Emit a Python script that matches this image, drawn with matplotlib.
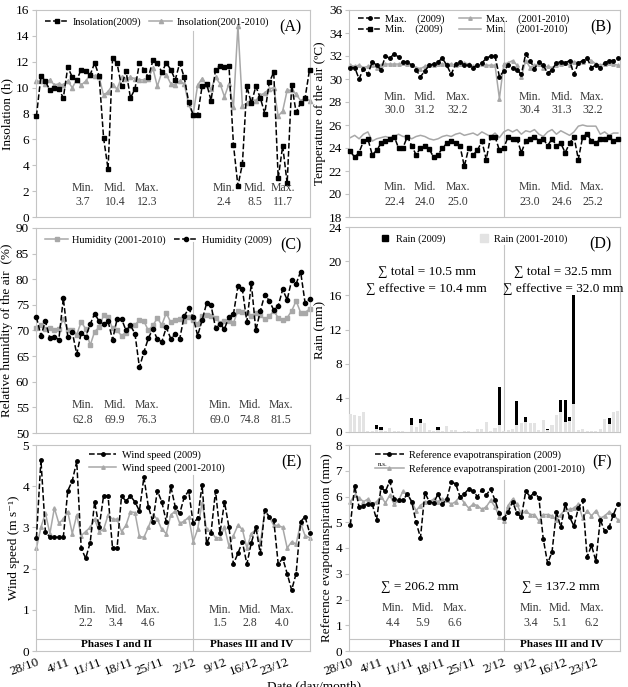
import numpy as np
import matplotlib.pyplot as plt
from matplotlib.lines import Line2D

plt.rcParams['font.family'] = ['Liberation Serif', 'DejaVu Serif']

# ---- data (daily values, 28/10 .. 28/12) ----
date_labels = ['28/10', '4/11', '11/11', '18/11', '25/11', '2/12', '9/12', '16/12', '23/12']
date_pos = [0, 7, 14, 21, 28, 35, 42, 49, 56]

insol_2009 = [7.8, 10.9, 10.5, 9.8, 10.0, 9.9, 9.2, 11.6, 10.8, 10.6, 11.4, 11.3, 11.0, 11.9, 10.9, 6.1, 3.7, 12.3,
              11.9, 10.1, 11.3, 9.2, 9.9, 11.9, 11.4, 10.8, 12.1, 11.9, 11.2, 11.9, 11.4, 10.6, 11.9, 10.8, 8.9, 7.9,
              7.9, 10.1, 10.3, 9.0, 11.4, 11.7, 11.6, 11.7, 5.6, 2.4, 4.1, 10.1, 8.8, 10.1, 9.2, 8.0, 10.4, 11.2,
              3.0, 5.5, 2.6, 10.2, 8.1, 8.8, 9.2, 11.4]
insol_avg = [10.5, 10.5, 10.3, 10.6, 10.2, 10.3, 10.2, 10.5, 10.0, 10.6, 10.2, 10.5, 11.0, 10.9, 10.8, 9.4, 9.7, 10.2,
             9.9, 10.8, 10.7, 10.8, 10.7, 10.6, 10.6, 10.7, 11.5, 10.1, 11.2, 11.0, 10.3, 10.2, 10.5, 10.3, 8.7, 7.9,
             10.2, 10.7, 10.2, 9.9, 10.8, 10.3, 9.3, 10.3, 8.5, 14.8, 8.6, 8.8, 9.1, 9.0, 9.4, 9.6, 9.9, 10.0,
             7.8, 8.2, 9.8, 9.8, 9.5, 9.0, 9.2, 9.0]

tmax_2009 = [31.0, 31.0, 30.0, 30.9, 30.4, 31.5, 31.2, 30.8, 32.0, 31.8, 32.2, 31.9, 31.5, 31.5, 31.2, 30.8, 30.2, 30.7,
             31.2, 31.3, 31.5, 31.8, 31.2, 30.4, 31.3, 31.5, 31.2, 31.2, 31.0, 31.2, 31.4, 31.8, 32.0, 32.0, 30.2, 30.7,
             31.2, 31.0, 30.8, 30.4, 32.2, 31.6, 30.9, 31.5, 31.2, 30.5, 30.8, 31.4, 31.5, 31.4, 31.6, 30.4, 31.4, 31.6,
             31.8, 31.0, 31.2, 31.0, 31.4, 31.6, 31.6, 31.8]
tmax_avg = [31.2, 31.1, 31.2, 31.0, 31.1, 31.2, 31.0, 31.2, 31.3, 31.3, 31.3, 31.3, 31.4, 31.3, 31.2, 31.0, 30.9, 31.1,
            31.2, 31.2, 31.3, 31.3, 31.3, 31.3, 31.2, 31.3, 31.4, 31.3, 31.1, 31.2, 31.3, 31.2, 31.2, 31.2, 28.3, 31.3,
            31.4, 31.6, 31.2, 30.2, 31.6, 31.0, 31.2, 31.3, 31.0, 31.1, 31.0, 31.2, 31.3, 31.4, 31.2, 31.5, 31.4, 31.5,
            31.8, 31.6, 31.3, 31.2, 31.3, 31.4, 31.3, 31.2]
tmin_2009 = [23.7, 23.2, 23.6, 24.6, 24.8, 23.4, 23.8, 24.4, 24.6, 24.8, 25.0, 24.0, 24.0, 25.0, 24.2, 23.4, 24.0, 24.2,
             23.9, 23.2, 23.4, 24.0, 24.4, 24.6, 24.4, 24.2, 22.4, 24.0, 23.4, 23.8, 24.6, 23.0, 25.0, 25.0, 23.8, 24.0,
             25.0, 24.8, 24.8, 23.6, 24.6, 24.8, 25.0, 24.6, 24.8, 24.2, 24.8, 24.2, 24.4, 23.6, 24.4, 25.0, 23.0, 25.0,
             25.2, 24.6, 24.4, 24.8, 24.8, 25.0, 24.6, 24.8]
tmin_avg = [24.9, 25.1, 24.8, 25.2, 25.4, 24.6, 24.8, 24.9, 25.0, 24.9, 25.0, 25.2, 25.0, 25.0, 24.8, 25.0, 25.1, 25.0,
            24.8, 24.7, 24.8, 25.0, 25.1, 25.0, 25.2, 25.3, 25.1, 25.2, 25.3, 25.1, 25.4, 25.2, 25.0, 25.3, 24.9, 25.4,
            25.6, 25.4, 25.6, 25.2, 25.5, 25.4, 25.6, 25.2, 25.0, 25.4, 25.6, 25.2, 25.5, 25.3, 25.1, 25.4, 25.9, 26.0,
            25.9, 25.9, 25.9, 25.2, 25.4, 25.1, 25.3, 25.3]

hum_2009 = [72.6, 69.0, 71.8, 68.5, 68.8, 68.2, 76.3, 68.8, 69.7, 65.4, 69.5, 68.8, 71.2, 73.3, 71.8, 71.2, 71.8, 68.2,
            72.2, 72.3, 70.0, 71.0, 69.4, 62.8, 65.8, 68.5, 70.3, 68.3, 67.8, 70.6, 68.4, 69.3, 68.4, 72.8, 74.3, 72.6,
            69.0, 72.0, 75.3, 74.9, 70.5, 71.2, 70.3, 72.7, 73.2, 78.6, 78.0, 71.7, 79.2, 70.0, 73.8, 77.0, 75.8, 74.0,
            74.8, 78.0, 76.0, 79.8, 79.1, 81.5, 75.4, 76.1]
hum_avg = [70.5, 71.0, 70.3, 70.5, 70.0, 70.2, 72.3, 70.0, 70.0, 69.2, 71.7, 70.3, 67.1, 69.8, 70.6, 73.0, 72.6, 70.4,
           70.0, 69.0, 69.6, 70.8, 71.1, 72.0, 71.8, 70.0, 71.0, 72.4, 71.1, 73.4, 71.6, 72.0, 72.2, 71.8, 72.6, 72.0,
           71.2, 72.8, 73.0, 72.9, 72.5, 71.5, 71.9, 71.8, 71.5, 73.8, 73.6, 73.5, 72.9, 73.4, 73.0, 72.2, 72.8, 73.8,
           72.5, 72.0, 72.5, 73.8, 75.8, 73.5, 73.5, 74.2]

rain_2009 = [0, 0, 0, 0, 0, 0, 0.8, 0.6, 0, 0, 0, 0, 0, 0, 1.6, 0, 1.5, 0,
             0, 0, 0.6, 0, 0, 0, 0, 0, 0, 0, 0, 0, 0, 0, 0, 0, 5.3, 0,
             0, 0, 3.6, 0, 1.8, 0, 0, 0, 0, 0.3, 0, 0, 3.7, 3.7, 1.8, 16.0, 0, 0,
             0, 0, 0, 0, 0, 1.6, 0, 0]
rain_avg = [2.1, 2.0, 1.9, 2.3, 0.1, 0.1, 0.3, 0.2, 0.1, 0.5, 0.1, 0.1, 0.1, 0.0, 0.8, 0.6, 1.0, 1.0,
            0.2, 0.1, 0.2, 0.1, 0.7, 0.2, 0.2, 0.0, 0.1, 0.1, 0.0, 0.3, 0.4, 1.2, 0.1, 0.5, 0.8, 0.1,
            0.2, 0.3, 0.8, 1.0, 1.2, 1.0, 1.0, 0.2, 1.4, 0.2, 0.8, 2.0, 2.3, 1.2, 1.3, 3.3, 0.2, 0.3,
            0.1, 0.1, 0.1, 0.3, 1.5, 0.9, 2.3, 2.5]

wind_2009 = [2.75, 4.64, 2.9, 2.76, 2.76, 2.76, 2.76, 3.89, 4.13, 4.6, 2.49, 2.25, 2.63, 3.62, 3.0, 3.77, 3.76, 2.49,
             2.49, 3.76, 3.64, 3.76, 3.62, 3.4, 4.22, 3.5, 3.14, 3.89, 3.62, 3.14, 4.0, 3.5, 3.34, 3.73, 3.89, 3.1,
             3.22, 4.03, 2.61, 2.87, 3.89, 2.86, 3.62, 3.0, 2.11, 2.37, 2.65, 2.11, 2.63, 3.0, 2.37, 3.42, 3.26, 3.18,
             2.11, 2.25, 1.88, 1.48, 1.88, 3.14, 3.26, 2.87]
wind_avg = [2.5, 3.0, 3.35, 2.85, 3.47, 3.1, 3.2, 3.38, 2.85, 3.3, 2.8, 2.9, 3.0, 3.2, 2.9, 2.95, 3.3, 3.2,
            3.2, 2.9, 3.05, 3.38, 3.36, 2.78, 2.76, 3.0, 3.3, 3.2, 2.95, 2.85, 3.3, 3.4, 3.1, 3.15, 3.25, 2.65,
            2.95, 3.6, 2.95, 2.9, 2.75, 2.75, 3.0, 2.55, 2.8, 3.05, 2.95, 2.5, 2.85, 2.95, 2.6, 3.4, 3.25, 3.05,
            3.05, 3.0, 2.5, 2.65, 2.6, 3.1, 2.8, 2.75]

et0_2009 = [4.9, 6.4, 5.6, 5.65, 5.7, 5.7, 5.1, 6.35, 6.2, 6.6, 5.9, 5.85, 5.85, 6.1, 5.8, 5.0, 4.4, 6.15,
            5.8, 5.75, 6.1, 5.7, 5.9, 6.55, 6.5, 6.0, 6.1, 6.3, 6.2, 6.0, 6.25, 6.05, 6.3, 5.85, 5.35, 5.15,
            5.4, 5.8, 5.35, 5.2, 6.2, 6.0, 6.15, 5.95, 4.35, 3.4, 3.85, 5.4, 4.8, 5.7, 5.2, 4.85, 5.55, 5.85,
            3.65, 4.1, 3.5, 5.1, 4.65, 4.8, 5.3, 5.7]
et0_avg = [5.8, 6.05, 5.95, 5.8, 5.9, 5.7, 5.8, 6.0, 5.75, 6.05, 5.7, 5.85, 6.2, 6.1, 5.8, 5.45, 5.65, 5.8,
           5.8, 5.9, 5.8, 5.9, 5.85, 5.7, 5.8, 6.0, 5.75, 5.55, 5.7, 5.65, 5.5, 5.6, 5.85, 5.6, 5.2, 5.05,
           5.65, 5.9, 5.7, 5.3, 5.45, 5.3, 5.3, 5.05, 5.3, 5.3, 5.25, 5.1, 5.3, 5.5, 5.5, 5.55, 5.7, 5.15,
           5.45, 5.25, 5.45, 5.15, 5.25, 5.4, 5.3, 5.1]

stats_A = [['3.7', '10.4', '12.3'], ['2.4', '8.5', '11.7']]
stats_Bmax = [['30.0', '31.2', '32.2'], ['30.4', '31.3', '32.2']]
stats_Bmin = [['22.4', '24.0', '25.0'], ['23.0', '24.6', '25.2']]
stats_C = [['62.8', '69.9', '76.3'], ['69.0', '74.8', '81.5']]
stats_E = [['2.2', '3.4', '4.6'], ['1.5', '2.8', '4.0']]
stats_F = [['4.4', '5.9', '6.6'], ['3.4', '5.1', '6.2']]

days = np.arange(len(insol_2009))
GRAY = '#a8a8a8'
FRAME = '#c4c4c4'
TXT = '#3a3a3a'
LEG = 7.5

fig = plt.figure(figsize=(6.28, 6.87), dpi=100)

W = 687.0
def box(l, r, t, b):
    return [l / 628.0, 1 - b / W, (r - l) / 628.0, (b - t) / W]

axA = fig.add_axes(box(36, 310, 10, 217))
axB = fig.add_axes(box(349, 620, 10, 217))
axC = fig.add_axes(box(36, 310, 228, 433))
axD = fig.add_axes(box(349, 620, 227, 432))
axE = fig.add_axes(box(36, 310, 445, 651))
axF = fig.add_axes(box(349, 620, 445, 651))


def style(ax, ylim, step, ylabel, letter, left_col, div_top):
    ax.set_ylim(*ylim)
    ax.set_yticks(np.arange(ylim[0], ylim[1] + step / 2, step))
    if left_col:
        ax.set_xlim(-0.1, 61.1)
    else:
        ax.set_xlim(-0.3, 61.5)
    for s in ax.spines.values():
        s.set_color(FRAME)
        s.set_linewidth(0.8)
    ax.tick_params(axis='y', direction='out', length=3, color=FRAME, labelsize=9.5, pad=2)
    ax.tick_params(axis='x', length=0)
    ax.set_xticks(date_pos)
    ax.set_xticklabels([])
    ax.set_ylabel(ylabel, fontsize=9.5, labelpad=2)
    ax.axvline(35, ymax=div_top, color=FRAME, lw=0.8, zorder=0)
    ax.text(0.97, 0.955, letter, transform=ax.transAxes, ha='right', va='top', fontsize=11.5)


def stats(ax, xs, y1, y2, vals):
    for x, lab, v in zip(xs, ['Min.', 'Mid.', 'Max.'], vals):
        ax.text(x, y1, lab, transform=ax.transAxes, ha='center', va='center', fontsize=8.5, color=TXT)
        ax.text(x, y2, v, transform=ax.transAxes, ha='center', va='center', fontsize=8.5, color=TXT)


def black(ax, y, marker, ms):
    ax.plot(days, y, color='black', ls='--', lw=1.1, marker=marker, ms=ms, clip_on=False, zorder=3)


def gray(ax, y, marker, ms):
    ax.plot(days, y, color=GRAY, ls='-', lw=1.1, marker=marker, ms=ms, clip_on=False, zorder=2)


def hb(marker, ms):
    return Line2D([], [], color='black', ls='--', lw=1.1, marker=marker, ms=ms)


def hg(marker, ms):
    return Line2D([], [], color=GRAY, ls='-', lw=1.1, marker=marker, ms=ms)


# (A) insolation
style(axA, (0, 16), 2, 'Insolation (h)', '(A)', True, 0.9)
gray(axA, insol_avg, '^', 3)
black(axA, insol_2009, 's', 3.2)
axA.legend([hb('s', 3.2), hg('^', 3)], ['Insolation(2009)', 'Insolation(2001-2010)'], loc='upper left',
           bbox_to_anchor=(0.0, 1.01), ncol=2, frameon=False, fontsize=LEG, handlelength=2.2,
           handletextpad=0.4, columnspacing=0.8)
stats(axA, [0.172, 0.288, 0.405], 0.14, 0.072, stats_A[0])
stats(axA, [0.686, 0.80, 0.90], 0.14, 0.072, stats_A[1])

# (B) air temperature
style(axB, (18, 36), 2, 'Temperature of the air (\u00baC)', '(B)', False, 0.94)
gray(axB, tmax_avg, '^', 2.5)
gray(axB, tmin_avg, None, 0)
black(axB, tmax_2009, 'o', 2.5)
black(axB, tmin_2009, 's', 3)
axB.legend([hb('o', 2.5), hb('s', 3), hg('^', 2.5), hg(None, 0)],
           ['Max.    (2009)', 'Min.    (2009)', 'Max.    (2001-2010)', 'Min.    (2001-2010)'],
           loc='upper left', bbox_to_anchor=(0.0, 1.025), ncol=2, frameon=False, fontsize=LEG,
           handlelength=2.2, handletextpad=0.4, columnspacing=1.3, labelspacing=0.1)
stats(axB, [0.169, 0.28, 0.40], 0.581, 0.517, stats_Bmax[0])
stats(axB, [0.668, 0.785, 0.898], 0.581, 0.517, stats_Bmax[1])
stats(axB, [0.169, 0.28, 0.40], 0.146, 0.074, stats_Bmin[0])
stats(axB, [0.668, 0.785, 0.898], 0.146, 0.074, stats_Bmin[1])

# (C) relative humidity
style(axC, (50, 90), 5, 'Relative humidity of the air  (%)', '(C)', True, 0.93)
gray(axC, hum_avg, 's', 2.5)
black(axC, hum_2009, 'o', 3)
axC.legend([hg('s', 2.5), hb('o', 3)], ['Humidity (2001-2010)', 'Humidity (2009)'], loc='upper left',
           bbox_to_anchor=(0.0, 1.01), ncol=2, frameon=False, fontsize=LEG, handlelength=2.2,
           handletextpad=0.4, columnspacing=0.8)
stats(axC, [0.172, 0.288, 0.405], 0.137, 0.063, stats_C[0])
stats(axC, [0.67, 0.78, 0.895], 0.137, 0.063, stats_C[1])

# (D) rain
style(axD, (0, 24), 4, 'Rain (mm)', '(D)', False, 0.91)
axD.bar(days, rain_2009, width=0.7, color='black', zorder=2)
axD.bar(days, rain_avg, width=0.7, color='#e3e3e3', zorder=3)
axD.legend([Line2D([], [], ls='none', marker='s', ms=4.5, color='black'),
            Line2D([], [], ls='none', marker='s', ms=6, color='#e3e3e3')],
           ['Rain (2009)', 'Rain (2001-2010)'], loc='upper left', bbox_to_anchor=(0.08, 1.01), ncol=2,
           frameon=False, fontsize=LEG, handlelength=1.0, handletextpad=0.5, columnspacing=3.2)
axD.text(0.286, 0.782, '\u2211 total = 10.5 mm', transform=axD.transAxes, ha='center', va='center', fontsize=9.5)
axD.text(0.286, 0.698, '\u2211 effective = 10.4 mm', transform=axD.transAxes, ha='center', va='center', fontsize=9.5)
axD.text(0.791, 0.782, '\u2211 total = 32.5 mm', transform=axD.transAxes, ha='center', va='center', fontsize=9.5)
axD.text(0.791, 0.698, '\u2211 effective = 32.0 mm', transform=axD.transAxes, ha='center', va='center', fontsize=9.5)

# (E) wind speed
style(axE, (0, 5), 1, 'Wind speed (m s\u207b\u00b9)', '(E)', True, 0.855)
gray(axE, wind_avg, '^', 2.5)
black(axE, wind_2009, 'o', 2.5)
axE.legend([hb('o', 2.5), hg('^', 2.5)], ['Wind speed (2009)', 'Wind speed (2001-2010)'], loc='upper left',
           bbox_to_anchor=(0.16, 1.02), ncol=1, frameon=False, fontsize=LEG, handlelength=2.6,
           handletextpad=0.5, labelspacing=0.35)
stats(axE, [0.18, 0.29, 0.41], 0.2, 0.134, stats_E[0])
stats(axE, [0.672, 0.78, 0.898], 0.2, 0.134, stats_E[1])
axE.axhline(0.29, color=FRAME, lw=0.8, zorder=0)

# (F) reference evapotranspiration
style(axF, (0, 8), 1, 'Reference evapotranspiration (mm)', '(F)', False, 0.83)
gray(axF, et0_avg, '^', 2.5)
black(axF, et0_2009, 'o', 2.5)
axF.legend([hb('o', 2.5), hg('^', 2.5)],
           ['Reference evapotranspiration (2009)', 'Reference evapotranspiration (2001-2010)'],
           loc='upper left', bbox_to_anchor=(0.06, 1.02), ncol=1, frameon=False, fontsize=LEG,
           handlelength=2.8, handletextpad=0.5, labelspacing=0.35)
axF.text(0.125, 0.905, 'n.s.', transform=axF.transAxes, ha='center', va='center', fontsize=5)
axF.text(0.261, 0.312, '\u2211 = 206.2 mm', transform=axF.transAxes, ha='center', va='center', fontsize=9.5)
axF.text(0.781, 0.312, '\u2211 = 137.2 mm', transform=axF.transAxes, ha='center', va='center', fontsize=9.5)
stats(axF, [0.163, 0.273, 0.39], 0.207, 0.134, stats_F[0])
stats(axF, [0.67, 0.778, 0.895], 0.207, 0.134, stats_F[1])
axF.axhline(0.465, color=FRAME, lw=0.8, zorder=0)

for ax, c1, c2 in [(axE, 0.294, 0.787), (axF, 0.28, 0.785)]:
    ax.text(c1, 0.03, 'Phases I and II', transform=ax.transAxes, ha='center', va='center',
            fontsize=8, fontweight='bold')
    ax.text(c2, 0.03, 'Phases III and IV', transform=ax.transAxes, ha='center', va='center',
            fontsize=8, fontweight='bold')
    ax.set_xticklabels(date_labels, rotation=20, ha='right', va='top', rotation_mode='anchor', fontsize=9.5)
    ax.tick_params(axis='x', pad=4)

fig.text(0.5, 0.0, 'Date (day/month)', ha='center', va='center', fontsize=9.5)

fig.savefig('out.png', dpi=100)
